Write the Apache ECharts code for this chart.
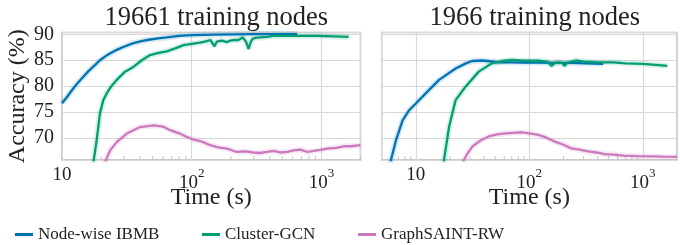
<!DOCTYPE html>
<html><head><meta charset="utf-8">
<script src="https://cdn.jsdelivr.net/npm/echarts@6/dist/echarts.min.js"></script>
<style>html,body{margin:0;padding:0;background:#fff}#c{width:680px;height:245px}</style>
</head><body><div id="c"></div>
<script>
// ---------- data ----------
const titles = ['19661 training nodes', '1966 training nodes'];
const seriesNames = ['Node-wise IBMB', 'Cluster-GCN', 'GraphSAINT-RW'];
const xTickValues = [10, 100, 1000];
const yTickValues = [70, 75, 80, 85, 90];

// left panel (19661 training nodes)
const leftIbmbT   = [10,11,12,13,14.6,16,18,19.6,22,26.4,30,35.5,41,47.8,55,64.3,80,100,150,209,300,450,650];
const leftIbmbAcc = [76.7,78.0,79.3,80.4,81.8,82.9,84.1,85.0,85.9,87.0,87.6,88.3,88.7,89.0,89.2,89.4,89.7,89.85,89.95,90.0,90.05,90.05,90.05];
const leftClusterT   = [17.3,18.5,19.6,20.8,22.1,24,26.4,30.6,35.5,41.2,47.8,55.5,64.3,74.6,86.5,97,116,131,139,144,150,156,160,171,187,198,204,215,229,247,262,274,283,293,310,337,381,427,512,650,926,1245,1620];
const leftClusterAcc = [64.6,69.55,74.7,77.3,78.6,80.0,81.2,82.8,83.7,85.0,86.0,86.4,86.7,87.3,87.9,88.1,88.4,88.7,88.9,88.8,87.7,88.6,88.6,88.8,88.5,88.8,89.1,88.9,88.9,89.4,88.6,87.2,88.3,89.1,89.3,89.4,89.5,89.7,89.75,89.7,89.7,89.6,89.5];
const leftSaintT   = [21.0,23.5,26.4,31.6,40,50.7,60,68.3,80,91.8,103,120,139,160,187,223,260,300,337,380,427,480,543,610,689,780,874,980,1107,1300,1487,1700,2000];
const leftSaintAcc = [64.8,67.6,69.2,70.85,72.1,72.45,72.2,71.5,70.9,70.2,69.7,69.3,68.6,68.2,67.95,67.3,67.4,67.2,67.1,67.3,67.5,67.2,67.3,67.6,67.75,67.3,67.5,67.7,67.95,68.1,68.4,68.4,68.6];

// right panel (1966 training nodes)
const rightIbmbT   = [5.9,6.04,6.68,7.64,8.73,10,12.2,16,22.4,27,31.3,38.3,45,53.5,70,90,120,160,234,320,448];
const rightIbmbAcc = [64.5,65.75,69.55,73.4,75.35,76.65,78.6,81.2,83.4,84.3,84.85,84.95,84.8,84.6,84.6,84.55,84.55,84.5,84.5,84.4,84.3];
const rightClusterT   = [17.5,17.7,19.6,22.4,27.4,35.8,46.8,60,70,90,120,145,157,168,180,195,205,215,240,259,300,402,550,707,1000,1300,1643];
const rightClusterAcc = [64.8,65.75,72.1,77.3,79.9,82.8,84.4,84.9,85.05,84.9,84.9,84.7,83.9,84.5,84.6,84.5,83.9,84.5,84.8,84.95,84.75,84.6,84.6,84.4,84.3,84.1,83.9];
const rightSaintT   = [26,26.5,28.5,31.3,37,43.8,52,61.2,72,85.7,100,120,140,168,200,234,270,329,390,459,550,680,898,1200,1500,2000];
const rightSaintAcc = [65.3,65.75,67.0,68.3,69.5,70.3,70.7,70.9,71.0,71.1,70.9,70.6,70.1,69.3,68.7,68.0,67.8,67.4,67.2,66.9,66.8,66.6,66.5,66.45,66.4,66.35];

// minor tick values of the log axes
const leftMinor  = [20,30,40,50,60,70,80,90,200,300,400,500,600,700,800,900,2000];
const rightMinor = [6,7,8,9,20,30,40,50,60,70,80,90,200,300,400,500,600,700,800,900];

// ---------- chart ----------
const FONT = 'Liberation Serif';
const COLORS = ['#0173b2', '#029e73', '#cc78bc'];
const Y_MIN = 65.75, Y_MAX = 90.35;
const zip = (a, b) => a.map((v, i) => [v, b[i]]);

const panels = [
  [zip(leftIbmbT, leftIbmbAcc), zip(leftClusterT, leftClusterAcc), zip(leftSaintT, leftSaintAcc)],
  [zip(rightIbmbT, rightIbmbAcc), zip(rightClusterT, rightClusterAcc), zip(rightSaintT, rightSaintAcc)]
];

const grids = [
  {left: 62, top: 32.5, width: 298.5, height: 127.5},
  {left: 381.7, top: 32.5, width: 296.3, height: 127.5}
];

function xLabel(v) {
  const e = Math.round(Math.log10(v));
  if (Math.abs(Math.pow(10, e) - v) > 1e-6 * v) return '';
  if (e === 1) return '{p|10}';
  return '{b|10}{s|' + e + '}';
}

const xAxes = [[10, 2000], [5, 2000]].map((r, i) => ({
  type: 'log', logBase: 10, gridIndex: i, min: r[0], max: r[1],
  name: 'Time (s)', nameLocation: 'middle', nameGap: 26, nameMoveOverlap: false,
  nameTextStyle: {fontFamily: FONT, fontSize: 24, color: '#222'},
  axisLine: {show: false}, axisTick: {show: false},
  minorTick: {show: false}, minorSplitLine: {show: false},
  splitLine: {show: true, lineStyle: {color: '#d9d9d9', width: 1.2}},
  axisLabel: {
    margin: 7, formatter: xLabel, showMinLabel: true, showMaxLabel: true,
    fontFamily: FONT, color: '#222',
    rich: {
      p: {fontFamily: FONT, fontSize: 19, lineHeight: 16, color: '#222'},
      b: {fontFamily: FONT, fontSize: 19, lineHeight: 26, verticalAlign: 'bottom', color: '#222'},
      s: {fontFamily: FONT, fontSize: 13, lineHeight: 8, verticalAlign: 'top', color: '#222'}
    }
  }
}));

const yAxes = [0, 1].map(i => ({
  type: 'value', gridIndex: i, min: Y_MIN, max: Y_MAX,
  name: i === 0 ? 'Accuracy (%)' : '', nameLocation: 'middle', nameGap: 30,
  nameTextStyle: {fontFamily: FONT, fontSize: 24, color: '#222'},
  axisLine: {show: false}, axisTick: {show: false},
  splitLine: {show: true, lineStyle: {color: '#d9d9d9', width: 1.2}},
  axisLabel: {
    show: i === 0, margin: 8, fontFamily: FONT, fontSize: 20, color: '#222',
    formatter: v => (yTickValues.indexOf(Math.round(v * 1000) / 1000) >= 0 ? String(v) : '')
  }
}));

const series = [];
panels.forEach((lines, gi) => {
  lines.forEach((data, si) => {
    series.push({
      name: '_halo' + si, type: 'line', xAxisIndex: gi, yAxisIndex: gi, data,
      showSymbol: false, silent: true, z: 2,
      lineStyle: {color: COLORS[si], width: 6, opacity: 0.15}
    });
  });
  lines.forEach((data, si) => {
    series.push({
      name: seriesNames[si], type: 'line', xAxisIndex: gi, yAxisIndex: gi, data,
      showSymbol: false, z: 3, color: COLORS[si],
      lineStyle: {color: COLORS[si], width: 2.3}
    });
  });
  const minor = gi === 0 ? leftMinor : rightMinor;
  series.push({
    type: 'custom', xAxisIndex: gi, yAxisIndex: gi, silent: true, z: 1,
    data: minor.map(v => [v]), encode: {x: 0},
    renderItem: (params, api) => {
      const p = api.coord([api.value(0), Y_MIN]);
      return {type: 'line', shape: {x1: p[0], y1: p[1], x2: p[0], y2: p[1] - 4},
              style: {stroke: '#c4c4c4', lineWidth: 1}};
    }
  });
});

const legendLefts = [10, 197, 353];
const legends = seriesNames.map((n, i) => ({
  data: [n], left: legendLefts[i], top: 221, icon: 'rect',
  itemWidth: 18, itemHeight: 3, itemGap: 0,
  textStyle: {fontFamily: FONT, fontSize: 17, color: '#222'}
}));

const chart = echarts.init(document.getElementById('c'), null, {renderer: 'canvas'});
chart.setOption({
  animation: false,
  backgroundColor: '#fff',
  color: COLORS,
  title: titles.map((t, i) => ({
    text: t, left: grids[i].left + grids[i].width / 2, top: 0, textAlign: 'center',
    textStyle: {fontFamily: FONT, fontSize: 26.5, fontWeight: 'normal', color: '#222'}
  })),
  grid: grids.map(g => Object.assign({show: true, borderColor: '#b8b8b8', borderWidth: 1.5, backgroundColor: 'transparent'}, g)),
  legend: legends,
  xAxis: xAxes,
  yAxis: yAxes,
  series
});
</script></body></html>
